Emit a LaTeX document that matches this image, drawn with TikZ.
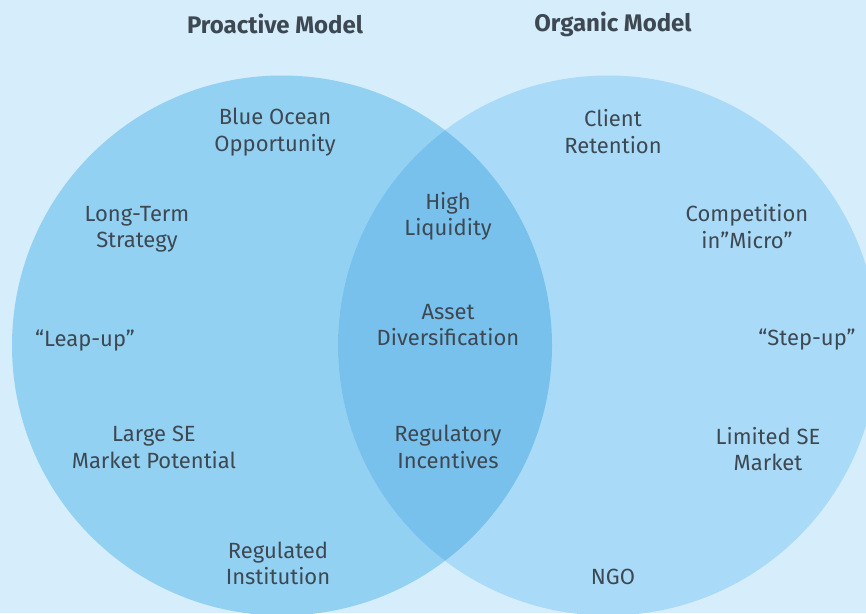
\documentclass[tikz,border=0pt]{standalone}
\usepackage{fontspec}
\setmainfont{Fira Sans}
\definecolor{bg}{HTML}{D6EDFB}
\definecolor{leftc}{HTML}{93D1F3}
\definecolor{rightc}{HTML}{A9DBF8}
\definecolor{midc}{HTML}{79C1ED}
\definecolor{txt}{HTML}{3D4852}
\begin{document}
\begin{tikzpicture}[x=1pt,y=-1pt,
  lbl/.style={align=center,text=txt,font=\fontsize{22}{26.5}\selectfont,inner sep=0pt},
  ttl/.style={text=txt,font=\fontsize{24}{26}\selectfont\bfseries,inner sep=0pt}]
\fill[bg] (0,0) rectangle (866,613);
\useasboundingbox (0,0) rectangle (866,613);
\coordinate (cl) at (282,345.5);
\coordinate (cr) at (608,345.5);
\begin{scope}
\clip (0,0) rectangle (866,613);
\fill[leftc] (cl) circle[radius=270pt];
\fill[rightc] (cr) circle[radius=270pt];
\begin{scope}
\clip (cl) circle[radius=270pt];
\fill[midc] (cr) circle[radius=270pt];
\end{scope}
\end{scope}
\node[ttl] (t1) at (275,24) {Proactive Model};
\node[ttl] (t2) at (613,24) {Organic Model};
\node[lbl] (a1) at (275,132) {Blue Ocean\\Opportunity};
\node[lbl] (b1) at (613,131.5) {Client\\Retention};
\node[lbl] (a2) at (137,229.5) {Long-Term\\Strategy};
\node[lbl] (m1) at (448,216.5) {High\\Liquidity};
\node[lbl] (b2) at (747,226.5) {Competition\\in”Micro”};
\node[lbl] (a3) at (85,340.5) {“Leap-up”};
\node[lbl] (m2) at (448,325) {Asset\\Diversification};
\node[lbl] (b3) at (807,340) {“Step-up”};
\node[lbl] (a4) at (154,447.5) {Large SE\\Market Potential};
\node[lbl] (m3) at (448,447) {Regulatory\\Incentives};
\node[lbl] (b4) at (768,449) {Limited SE\\Market};
\node[lbl] (a5) at (278,563.5) {Regulated\\Institution};
\node[lbl] (b5) at (613,576.5) {NGO};
\end{tikzpicture}
\end{document}
